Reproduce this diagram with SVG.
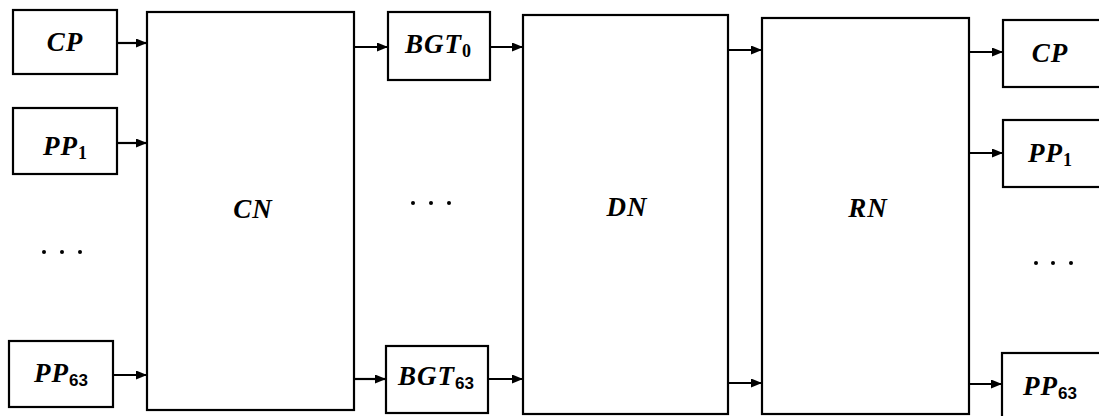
<svg xmlns="http://www.w3.org/2000/svg" width="1099" height="416" viewBox="0 0 1099 416">
<style>
.box{fill:#fff;stroke:#000;stroke-width:2.2}
.lbl{font-family:"Liberation Serif",serif;font-weight:bold;font-style:italic;font-size:27px;letter-spacing:1px;fill:#000}
.sub{font-size:18px;font-style:normal;letter-spacing:0}
.subs{font-family:"Liberation Sans",sans-serif;font-size:17px;font-style:normal;letter-spacing:0}
.con{stroke:#000;stroke-width:2.2;fill:none;marker-end:url(#arr)}
.dot{fill:#000}
</style>
<defs>
<marker id="arr" markerWidth="11" markerHeight="9" refX="11" refY="4.5" orient="auto" markerUnits="userSpaceOnUse">
<path d="M0,0 L11,4.5 L0,9 Z" fill="#000"/>
</marker>
</defs>
<rect width="1099" height="416" fill="#fff"/>
<g id="connectors">
<line class="con" x1="117" y1="43" x2="147" y2="43"/>
<line class="con" x1="117" y1="143" x2="147" y2="143"/>
<line class="con" x1="113" y1="375" x2="147" y2="375"/>
<line class="con" x1="354" y1="47" x2="388" y2="47"/>
<line class="con" x1="354" y1="379" x2="386" y2="379"/>
<line class="con" x1="490" y1="47" x2="523" y2="47"/>
<line class="con" x1="488" y1="379" x2="523" y2="379"/>
<line class="con" x1="728" y1="50" x2="762" y2="50"/>
<line class="con" x1="728" y1="383" x2="762" y2="383"/>
<line class="con" x1="969" y1="52" x2="1003" y2="52"/>
<line class="con" x1="969" y1="153" x2="1003" y2="153"/>
<line class="con" x1="969" y1="384" x2="1002" y2="384"/>
</g>
<g id="cp_in"><rect class="box" x="13" y="10" width="104" height="64"/><text class="lbl" x="65" y="51" text-anchor="middle">CP</text></g>
<g id="pp1_in"><rect class="box" x="13" y="108" width="104" height="66"/><text class="lbl" x="65" y="155" text-anchor="middle">PP<tspan class="sub" dy="4">1</tspan></text></g>
<g id="dots_in"><circle class="dot" cx="44" cy="252" r="2"/><circle class="dot" cx="62" cy="252" r="2"/><circle class="dot" cx="80" cy="252" r="2"/></g>
<g id="pp63_in"><rect class="box" x="9" y="341" width="104" height="66"/><text class="lbl" x="61" y="382" text-anchor="middle">PP<tspan class="subs" dy="4">63</tspan></text></g>
<g id="cn"><rect class="box" x="147" y="12" width="207" height="398"/><text class="lbl" x="253" y="218" text-anchor="middle">CN</text></g>
<g id="bgt0"><rect class="box" x="388" y="12" width="102" height="68"/><text class="lbl" x="438" y="53" text-anchor="middle">BGT<tspan class="sub" dy="4">0</tspan></text></g>
<g id="dots_mid"><circle class="dot" cx="413" cy="203" r="2"/><circle class="dot" cx="431" cy="203" r="2"/><circle class="dot" cx="449" cy="203" r="2"/></g>
<g id="bgt63"><rect class="box" x="386" y="346" width="102" height="67"/><text class="lbl" x="436" y="385" text-anchor="middle">BGT<tspan class="subs" dy="4">63</tspan></text></g>
<g id="dn"><rect class="box" x="523" y="15" width="205" height="399"/><text class="lbl" x="627" y="216" text-anchor="middle">DN</text></g>
<g id="rn"><rect class="box" x="762" y="18" width="207" height="396"/><text class="lbl" x="868" y="217" text-anchor="middle">RN</text></g>
<g id="cp_out"><rect class="box" x="1003" y="20" width="100" height="67"/><text class="lbl" x="1050" y="62" text-anchor="middle">CP</text></g>
<g id="pp1_out"><rect class="box" x="1003" y="120" width="100" height="67"/><text class="lbl" x="1050" y="162" text-anchor="middle">PP<tspan class="sub" dy="4">1</tspan></text></g>
<g id="dots_out"><circle class="dot" cx="1036" cy="263" r="2"/><circle class="dot" cx="1053" cy="263" r="2"/><circle class="dot" cx="1071" cy="263" r="2"/></g>
<g id="pp63_out"><rect class="box" x="1002" y="353" width="100" height="70"/><text class="lbl" x="1050" y="395" text-anchor="middle">PP<tspan class="subs" dy="4">63</tspan></text></g>
</svg>
